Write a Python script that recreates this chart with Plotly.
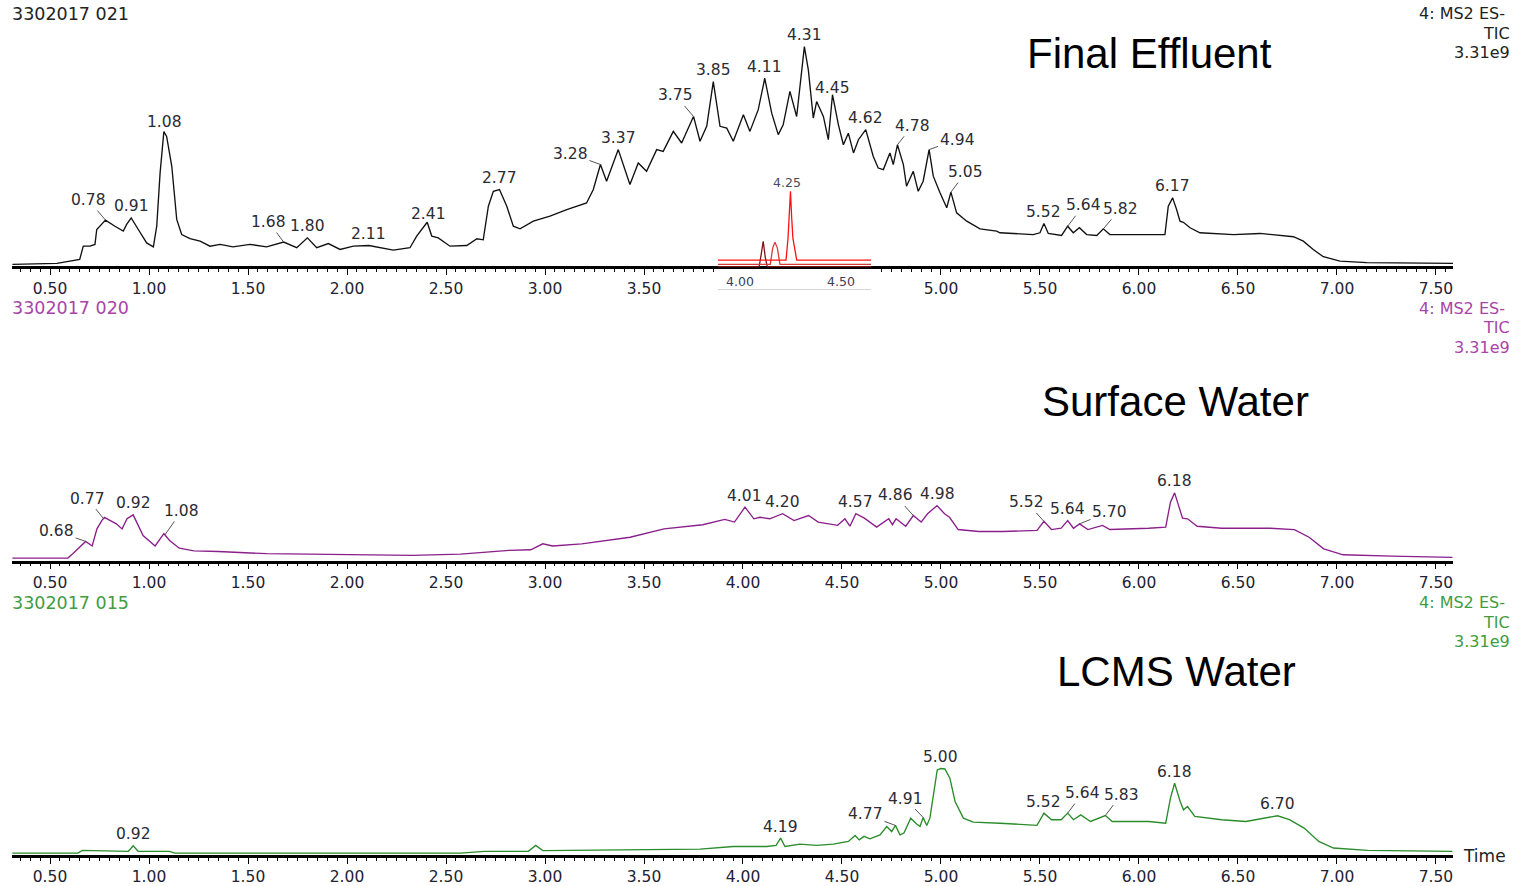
import numpy as np
import plotly.graph_objects as go

# ---------------- data (retention time in min, intensity in % of 3.31e9) ----------------
fe_time = [0.31, 0.535, 0.65, 0.668, 0.702, 0.727, 0.736, 0.753, 0.78, 0.828, 0.870, 0.887, 0.91, 0.946,
           0.988, 1.022, 1.039, 1.056, 1.075, 1.089, 1.115, 1.14, 1.165, 1.207, 1.258, 1.308, 1.359,
           1.424, 1.51, 1.594, 1.68, 1.746, 1.80, 1.847, 1.906, 1.965, 2.032, 2.11, 2.167, 2.234, 2.318,
           2.352, 2.405, 2.428, 2.461, 2.52, 2.605, 2.656, 2.688, 2.714, 2.739, 2.77, 2.807, 2.840, 2.874,
           2.941, 3.025, 3.11, 3.21, 3.244, 3.28, 3.311, 3.37, 3.429, 3.471, 3.513, 3.564, 3.597, 3.648,
           3.69, 3.75, 3.783, 3.817, 3.85, 3.884, 3.918, 3.951, 4.002, 4.035, 4.077, 4.11, 4.145, 4.178,
           4.203, 4.237, 4.271, 4.31, 4.33, 4.355, 4.372, 4.406, 4.431, 4.452, 4.482, 4.507, 4.532, 4.558,
           4.583, 4.62, 4.658, 4.683, 4.709, 4.742, 4.759, 4.78, 4.81, 4.826, 4.86, 4.885, 4.91, 4.94,
           4.961, 4.995, 5.029, 5.05, 5.079, 5.13, 5.197, 5.281, 5.298, 5.466, 5.5, 5.52, 5.542, 5.609,
           5.64, 5.668, 5.699, 5.736, 5.787, 5.82, 5.853, 5.971, 6.131, 6.148, 6.17, 6.19, 6.207, 6.224,
           6.258, 6.308, 6.477, 6.611, 6.78, 6.83, 6.88, 6.931, 7.015, 7.15, 7.586]
fe_int = [0, 0.5, 2.3, 8.3, 8.3, 9.1, 15.9, 17.4, 20.2, 17.4, 15.2, 18.2, 21.2, 15.9,
          9.8, 8.0, 17.4, 41.7, 60.5, 58.3, 44.7, 20.5, 13.6, 11.7, 10.6, 8.3, 9.1,
          8.0, 9.1, 8.0, 10.2, 7.6, 12.1, 7.6, 9.5, 6.8, 8.3, 8.6, 7.6, 6.5, 7.6,
          12.9, 19.2, 12.9, 12.1, 8.3, 8.6, 11.7, 11.2, 26.5, 33.3, 34.1, 26.5, 17.4, 16.2,
          19.7, 22.0, 25.0, 28.0, 34.1, 45.5, 37.9, 52.3, 36.4, 46.2, 42.4, 52.3, 51.5, 60.6,
          55.3, 67.4, 56.1, 63.0, 83.3, 62.9, 62.1, 56.1, 68.2, 60.6, 70.5, 84.8, 68.9, 59.1,
          63.6, 78.8, 67.4, 99.2, 88.6, 66.7, 74.2, 67.4, 56.8, 77.3, 63.6, 54.5, 59.8, 50.8,
          56.8, 61.4, 49.2, 43.9, 43.2, 50.8, 45.5, 54.5, 45.5, 35.6, 42.4, 33.3, 37.9, 52.3,
          40.2, 32.6, 25.8, 32.9, 23.5, 19.7, 16.2, 15.2, 14.4, 13.6, 14.4, 18.6, 14.1, 13.2,
          17.4, 14.4, 16.7, 13.6, 13.2, 16.2, 13.6, 13.6, 13.6, 26.5, 30.3, 25.0, 19.7, 19.2,
          16.7, 14.4, 13.6, 14.1, 12.6, 10.6, 6.8, 3.5, 1.5, 0.8, 0.5]

sw_time = [0.31, 0.59, 0.615, 0.651, 0.68, 0.713, 0.737, 0.762, 0.775, 0.80, 0.835, 0.864, 0.889, 0.92,
           0.938, 0.97, 1.031, 1.075, 1.104, 1.153, 1.227, 1.349, 1.594, 1.961, 2.328, 2.573, 2.818,
           2.928, 2.989, 3.038, 3.185, 3.43, 3.601, 3.797, 3.908, 3.957, 4.01, 4.055, 4.086, 4.135, 4.20,
           4.258, 4.294, 4.331, 4.38, 4.478, 4.515, 4.54, 4.57, 4.613, 4.675, 4.736, 4.755, 4.773, 4.822,
           4.86, 4.9, 4.932, 4.98, 5.018, 5.043, 5.087, 5.19, 5.313, 5.485, 5.52, 5.558, 5.607, 5.64,
           5.669, 5.70, 5.742, 5.816, 5.853, 6.049, 6.135, 6.159, 6.18, 6.2, 6.22, 6.245, 6.294, 6.417,
           6.663, 6.785, 6.859, 6.933, 7.031, 7.276, 7.583]
sw_int = [0.3, 0.3, 2.3, 5.3, 7.9, 5.8, 13.6, 17.5, 18.8, 17.6, 15.9, 13.6, 18.2, 20.0,
          16.7, 10.6, 5.8, 11.4, 8.3, 4.8, 3.6, 3.3, 2.3, 1.8, 1.5, 2.1, 3.8,
          4.1, 6.8, 5.8, 6.8, 9.8, 13.6, 15.5, 17.9, 16.7, 23.5, 18.2, 18.9, 18.2, 20.5,
          17.4, 18.5, 19.7, 16.7, 15.2, 18.2, 14.8, 20.5, 18.5, 14.4, 18.2, 15.5, 18.2, 14.8,
          19.7, 16.7, 20.5, 24.2, 20.5, 18.9, 13.3, 12.4, 12.4, 12.9, 17.0, 13.3, 13.9, 17.4,
          13.9, 15.9, 13.3, 15.2, 13.3, 13.9, 14.4, 25.8, 30.0, 24.2, 18.5, 18.2, 14.8, 13.9,
          13.9, 13.3, 9.8, 4.5, 1.8, 1.2, 0.6]

lw_time = [0.31, 0.64, 0.664, 0.86, 0.896, 0.92, 0.945, 1.104, 1.129, 2.573, 2.695, 2.916, 2.953, 2.989,
           3.43, 3.783, 3.951, 4.12, 4.167, 4.19, 4.212, 4.288, 4.372, 4.456, 4.532, 4.566, 4.587, 4.611,
           4.641, 4.692, 4.726, 4.751, 4.77, 4.793, 4.813, 4.847, 4.877, 4.894, 4.91, 4.928, 4.944, 4.961,
           4.981, 5.00, 5.02, 5.045, 5.071, 5.113, 5.163, 5.298, 5.485, 5.52, 5.558, 5.607, 5.64, 5.669,
           5.706, 5.755, 5.83, 5.865, 6.049, 6.135, 6.159, 6.18, 6.208, 6.225, 6.245, 6.282, 6.417, 6.54,
           6.638, 6.70, 6.76, 6.834, 6.908, 6.982, 7.154, 7.583]
lw_int = [0, 0, 1.2, 0.8, 0.8, 3.3, 0.8, 0.8, 0, 0, 0.8, 0.8, 3.5, 1.1,
          1.5, 1.8, 3.0, 3.0, 3.5, 6.8, 3.0, 4.1, 3.5, 4.1, 5.3, 8.0, 6.0, 7.6,
          6.5, 8.3, 12.1, 9.8, 12.6, 8.3, 9.1, 15.9, 13.2, 12.1, 16.2, 12.6, 15.9, 26.5,
          37.9, 38.5, 38.3, 34.1, 23.5, 15.9, 14.1, 13.6, 12.6, 18.2, 15.2, 15.2, 18.2, 15.2,
          17.4, 14.4, 17.1, 14.4, 14.4, 13.6, 25.0, 31.8, 23.5, 19.7, 21.2, 16.7, 15.2, 14.4,
          15.9, 17.0, 15.2, 11.4, 5.3, 2.3, 1.2, 0.8]

# inset ion chromatograms (relative %, inset time scale)
inset_time = [3.891, 4.095, 4.105, 4.115, 4.125, 4.135, 4.150, 4.162, 4.173, 4.185, 4.198,
              4.228, 4.238, 4.244, 4.25, 4.256, 4.262, 4.281, 4.649]
inset_a = [0, 0, 18, 37, 14, 0, 0, 0, 0, 0, 0, 0, 0, 0, 0, 0, 0, 0, 0]          # dark red
inset_b = [0, 0, 0, 0, 0, 0, 0, 24, 32, 24, 0, 0, 0, 0, 0, 0, 0, 0, 0]          # red
inset_c = [0, 0, 0, 0, 0, 0, 0, 0, 0, 0, 0, 0, 32, 62, 100, 62, 32, 0, 0]       # bright red

# labelled peaks
fe_peaks = [0.78, 0.91, 1.08, 1.68, 1.80, 2.11, 2.41, 2.77, 3.28, 3.37, 3.75, 3.85, 4.11, 4.31,
            4.45, 4.62, 4.78, 4.94, 5.05, 5.52, 5.64, 5.82, 6.17]
sw_peaks = [0.68, 0.77, 0.92, 1.08, 4.01, 4.20, 4.57, 4.86, 4.98, 5.52, 5.64, 5.70, 6.18]
lw_peaks = [0.92, 4.19, 4.77, 4.91, 5.00, 5.52, 5.64, 5.83, 6.18, 6.70]
inset_peak = 4.25

sample_ids = ["3302017 021", "3302017 020", "3302017 015"]
panel_titles = ["Final Effluent", "Surface Water", "LCMS Water"]
scan_info = ["4: MS2 ES-", "TIC", "3.31e9"]
tick_labels_at = [0.5, 1.0, 1.5, 2.0, 2.5, 3.0, 3.5, 4.0, 4.5, 5.0, 5.5, 6.0, 6.5, 7.0, 7.5]

# ---------------- styling / layout ----------------
W, H = 1522, 886
def px(x): return x / W
def py(y): return 1 - y / H

X_L, X_R = 12, 1453
T_MIN, T_MAX = 0.308, 7.586
AXIS_Y = [268, 563, 858]
PANEL_H = 250
PX_PER_PCT = 2.2
TRACE_COLORS = ["#111111", "#8a1f8c", "#2a8c2a"]
ID_COLORS = ["#222222", "#a844a8", "#3f9d3f"]
LABEL_FONT = dict(family="DejaVu Sans", size=15.5, color="#2b2b33")
LEADER = dict(arrowhead=0, arrowwidth=1, arrowcolor="#555555", standoff=0)

leaders = [
    {0.78: (-17, -20), 1.68: (-15, -20), 3.28: (-30, -11), 3.75: (-18, -21), 4.78: (15, -19),
     4.94: (28, -10), 5.05: (15, -20), 5.64: (16, -21), 5.82: (17, -20)},
    {0.68: (-29, -10), 0.77: (-16, -20), 1.08: (17, -24), 4.86: (-18, -20), 5.52: (-17, -19),
     5.70: (30, -12)},
    {4.77: (-30, -11), 4.91: (-18, -19), 5.64: (15, -20), 5.83: (16, -21)},
]

fig = go.Figure()
series = [(fe_time, fe_int, fe_peaks), (sw_time, sw_int, sw_peaks), (lw_time, lw_int, lw_peaks)]
inset_lo, inset_hi = 3.87, 4.655
annotations = []
major_all = [round(v, 2) for v in np.arange(0.5, 7.51, 0.25)]
minor_all = [round(v, 2) for v in np.arange(0.35, 7.56, 0.05)]

for i, (t, v, peaks) in enumerate(series):
    n = "" if i == 0 else str(i + 1)
    fig.add_trace(go.Scatter(x=t, y=v, mode="lines", line=dict(color=TRACE_COLORS[i], width=1.35),
                             xaxis="x" + n, yaxis="y" + n, hoverinfo="skip", showlegend=False))
    A = AXIS_Y[i]
    bottom, top = A - 1, A - 1 - PANEL_H
    if i == 0:
        majors = [m for m in major_all if not (inset_lo < m < inset_hi)]
        minors = [m for m in minor_all if not (inset_lo < m < inset_hi)]
    else:
        majors, minors = major_all, minor_all
    texts = [f"{m:.2f}" if (m in tick_labels_at) else "" for m in majors]
    fig.update_layout(**{
        "xaxis" + n: dict(domain=[px(X_L), px(X_R)], range=[T_MIN, T_MAX], anchor="y" + n,
                          showgrid=False, zeroline=False, showline=True, linecolor="black", linewidth=2.5,
                          ticks="outside", ticklen=6, tickwidth=1.3, tickcolor="black",
                          tickmode="array", tickvals=majors, ticktext=texts,
                          tickfont=dict(family="DejaVu Sans", size=15.5, color="#222233"),
                          minor=dict(ticks="outside", ticklen=3, tickwidth=1, tickcolor="black",
                                     tickmode="array", tickvals=minors)),
        "yaxis" + n: dict(domain=[py(bottom), py(top)], range=[-2 / PX_PER_PCT, (PANEL_H - 2) / PX_PER_PCT],
                          anchor="x" + n, visible=False, fixedrange=True),
    })
    for p in peaks:
        yv = float(np.interp(p, t, v))
        base = dict(x=p, y=yv, xref="x" + n, yref="y" + n, text=f"{p:.2f}", font=LABEL_FONT)
        if p in leaders[i]:
            ax, ay = leaders[i][p]
            annotations.append(dict(base, showarrow=True, ax=ax, ay=ay, **LEADER))
        else:
            annotations.append(dict(base, showarrow=False, yanchor="middle", yshift=11.5))
    # sample id, title, scan info
    annotations.append(dict(x=px(10), y=py(A - 254), xref="paper", yref="paper", xanchor="left",
                            yanchor="middle", showarrow=False, text=sample_ids[i],
                            font=dict(family="DejaVu Sans", size=17.5, color=ID_COLORS[i])))
    title_y = [54, 402, 673][i]
    title_x = [1149, 1175, 1176][i]
    annotations.append(dict(x=px(title_x), y=py(title_y), xref="paper", yref="paper", xanchor="center",
                            yanchor="middle", showarrow=False, text=panel_titles[i],
                            font=dict(family="Liberation Sans", size=42, color="black")))
    for k, s in enumerate(scan_info):
        annotations.append(dict(x=px(1507 if k == 0 else 1512), y=py(A - 254 + 19.5 * k), xref="paper",
                                yref="paper", xanchor="right", yanchor="middle", showarrow=False, text=s,
                                font=dict(family="DejaVu Sans", size=16, color=ID_COLORS[i])))

# inset (red ion chromatograms)
INSET_OFFSETS = [-9.6, -6.2, 0.0]
INSET_COLORS = ["#7a1414", "#d83a3a", "#ff1010"]
for vals, off, col in zip([inset_a, inset_b, inset_c], INSET_OFFSETS, INSET_COLORS):
    fig.add_trace(go.Scatter(x=inset_time, y=[q + off for q in vals], mode="lines",
                             line=dict(color=col, width=1.3), xaxis="x4", yaxis="y4",
                             hoverinfo="skip", showlegend=False))
fig.update_layout(
    xaxis4=dict(domain=[px(718), px(871)], range=[3.891, 4.649], anchor="y4", showgrid=False,
                zeroline=False, showline=True, linecolor="#d6d6d6", linewidth=1, ticks="",
                tickmode="array", tickvals=[4.0, 4.5], ticktext=["4.00", "4.50"],
                ticklabelposition="inside", tickfont=dict(family="DejaVu Sans", size=12.5, color="#3c3c5a")),
    yaxis4=dict(domain=[py(290), py(183)], range=[-42.5, 112.6], anchor="x4", visible=False),
)
annotations.append(dict(x=inset_peak, y=float(np.interp(inset_peak, inset_time, inset_c)), xref="x4", yref="y4",
                        text=f"{inset_peak:.2f}", showarrow=False, yanchor="middle", yshift=9, xshift=-3,
                        font=dict(family="DejaVu Sans", size=12.5, color="#4a4a60")))
annotations.append(dict(x=px(1484), y=py(858), xref="paper", yref="paper", xanchor="center", yanchor="middle",
                        showarrow=False, text="Time", font=dict(family="DejaVu Sans", size=17, color="#222222")))

fig.update_layout(width=W, height=H, margin=dict(l=0, r=0, t=0, b=0), paper_bgcolor="white",
                  plot_bgcolor="rgba(0,0,0,0)", showlegend=False, annotations=annotations)
fig.write_html("out.html")
